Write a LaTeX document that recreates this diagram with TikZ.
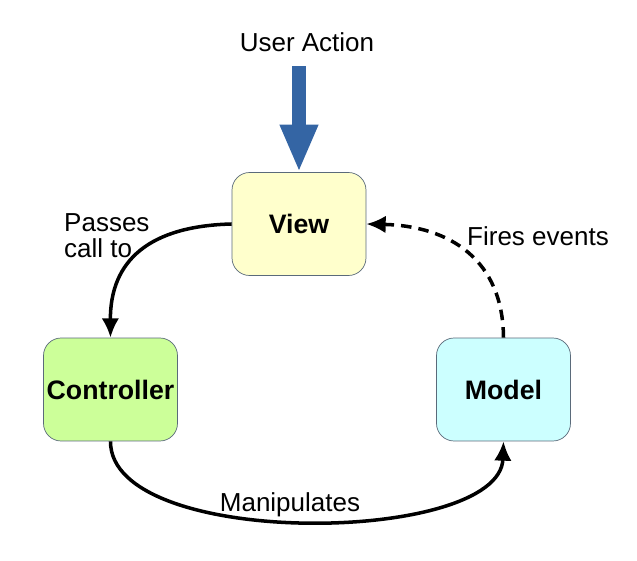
\documentclass[tikz,border=0pt]{standalone}
\usepackage{fontspec}
\setmainfont{Liberation Sans}
\usetikzlibrary{arrows.meta}
\tikzset{>=Latex}
\definecolor{viewfill}{HTML}{FFFFCC}
\definecolor{ctrlfill}{HTML}{CCFF99}
\definecolor{modelfill}{HTML}{CCFFFF}
\definecolor{actionblue}{HTML}{3465A4}
\definecolor{boxline}{HTML}{5A6A7A}
\begin{document}
\begin{tikzpicture}[x=0.02cm, y=-0.02cm]
	\tikzstyle{block} = [draw=boxline, rounded corners=10pt, inner sep=1pt, minimum width=2.68cm, minimum height=2.06cm, font=\fontsize{15.2}{18}\selectfont\bfseries]
	\tikzstyle{flow} = [->, line width=2pt, >={Latex[length=11pt,width=10pt]}]
	\tikzstyle{label} = [font=\fontsize{14.8}{18}\selectfont, align=left]
	\useasboundingbox (0,0) rectangle (637,561);

%----------boxes------------------------------
	\node[block, fill=viewfill] (view) at (299,224) {View};
	\node[block, fill=ctrlfill] (ctrl) at (110.5,389.5) {Controller};
	\node[block, fill=modelfill] (model) at (503.5,389.5) {Model};

%----------user action------------------------
	\node[label] (user) at (307,42) {User Action};
	\coordinate (top) at (299,66);
	\draw[-{Triangle[length=27pt,width=20pt]}, line width=8pt, actionblue] (top) -- (view.north);

%----------connectors-------------------------
	\draw[flow] (view.west) .. controls (150,226) and (110,260) .. (ctrl.north);
	\draw[flow] (ctrl.south) .. controls (110,550) and (500,545) .. (model.south);
	\draw[flow, dash pattern=on 6pt off 4pt] (model.north) .. controls (503,260) and (450,226) .. (view.east);

%----------texts------------------------------
	\node[label, anchor=west] (passes) at (58,236) {Passes\\[-3pt]call to};
	\node[label] (fires) at (538,236) {Fires events};
	\node[label] (manip) at (290,505) {Manipulates};
\end{tikzpicture}
\end{document}
